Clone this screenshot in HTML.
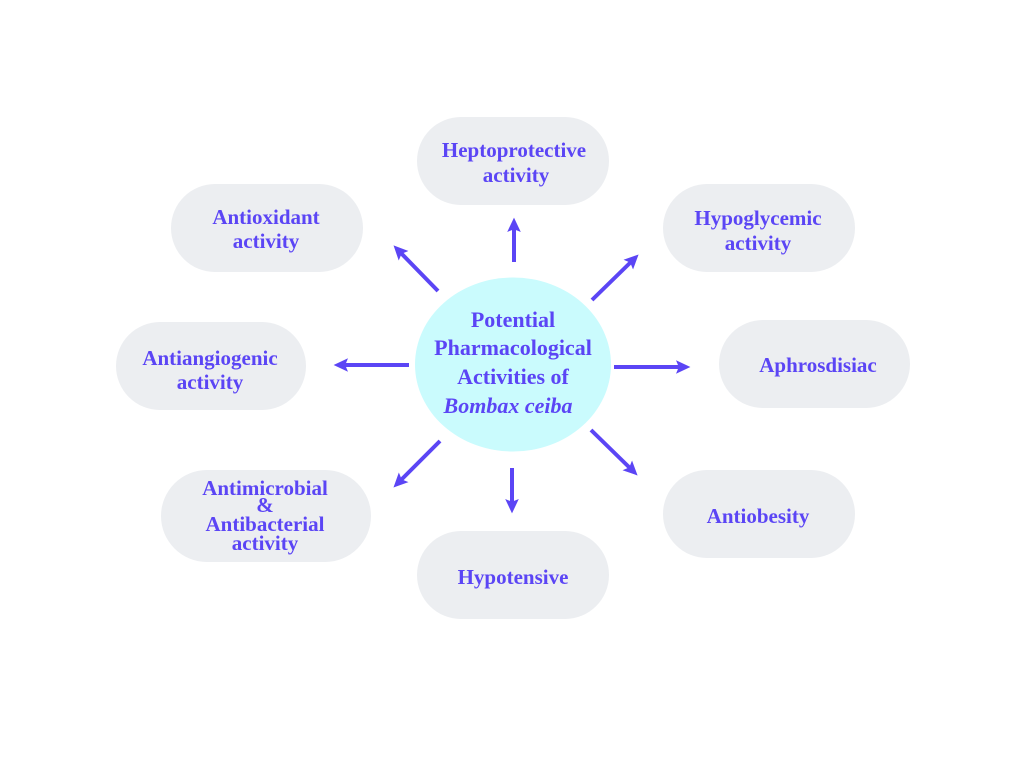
<!DOCTYPE html>
<html><head><meta charset="utf-8"><style>body{margin:0;background:#fff}svg{display:block}</style></head><body>
<svg width="1024" height="768" viewBox="0 0 1024 768" xmlns="http://www.w3.org/2000/svg">
<defs><marker id="a" markerWidth="4" markerHeight="4" refX="2" refY="2" orient="auto" markerUnits="strokeWidth"><path d="M0,0.3 L3.6,2 L0,3.7 L0.7,2 z" fill="#5b45f5"/></marker></defs>
<g fill="#eceef1">
<rect x="417" y="117" width="192" height="88" rx="44"/>
<rect x="171" y="184" width="192" height="88" rx="44"/>
<rect x="663" y="184" width="192" height="88" rx="44"/>
<rect x="116" y="322" width="190" height="88" rx="44"/>
<rect x="719" y="320" width="191" height="88" rx="44"/>
<rect x="161" y="470" width="210" height="92" rx="46"/>
<rect x="663" y="470" width="192" height="88" rx="44"/>
<rect x="417" y="531" width="192" height="88" rx="44"/>
</g>
<ellipse cx="513" cy="364.5" rx="98" ry="87" fill="#cafbfd"/>
<g stroke="#5b45f5" stroke-width="4" fill="none" marker-end="url(#a)">
<line x1="514" y1="262" x2="514" y2="224"/>
<line x1="438" y1="291" x2="398" y2="250"/>
<line x1="592" y1="300" x2="634" y2="259"/>
<line x1="409" y1="365" x2="340" y2="365"/>
<line x1="614" y1="367" x2="684" y2="367"/>
<line x1="440" y1="441" x2="398" y2="483"/>
<line x1="512" y1="468" x2="512" y2="507"/>
<line x1="591" y1="430" x2="633" y2="471"/>
</g>
<g font-family="Liberation Serif, serif" font-weight="bold" font-size="21" fill="#5b45f5" text-anchor="middle">
<text x="514" y="157">Heptoprotective</text><text x="516" y="182">activity</text>
<text x="266" y="224">Antioxidant</text><text x="266" y="248">activity</text>
<text x="758" y="225">Hypoglycemic</text><text x="758" y="250">activity</text>
<text x="210" y="365">Antiangiogenic</text><text x="210" y="389">activity</text>
<text x="818" y="372">Aphrosdisiac</text>
<text x="265" y="495">Antimicrobial</text><text x="265" y="512">&amp;</text><text x="265" y="531">Antibacterial</text><text x="265" y="550">activity</text>
<text x="758" y="523">Antiobesity</text>
<text x="513" y="584">Hypotensive</text>
<g font-size="22">
<text x="513" y="327">Potential</text>
<text x="513" y="355">Pharmacological</text>
<text x="513" y="384">Activities of</text>
<text x="508" y="413" font-style="italic">Bombax ceiba</text>
</g>
</g>
</svg>
</body></html>
